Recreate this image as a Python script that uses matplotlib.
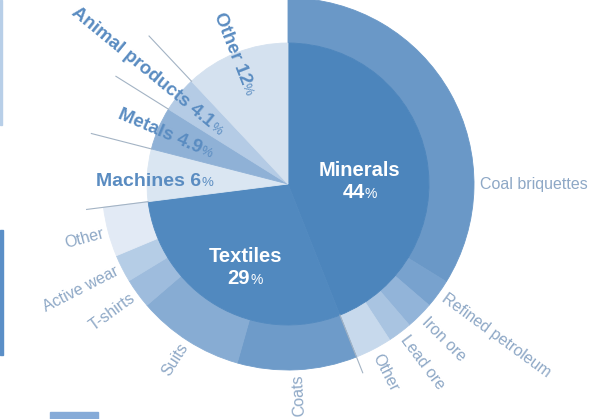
import numpy as np
import matplotlib.pyplot as plt
from matplotlib.patches import Rectangle

# top level split (clockwise from 12 o'clock)
categories = ["Minerals", "Textiles", "Machines", "Metals", "Animal products", "Other"]
shares = [44, 29, 6, 4.9, 4.1, 12]
share_text = ["44", "29", "6", "4.9", "4.1", "12"]
inner_colors = ["#4c85bc", "#5189bf", "#dae6f2", "#8fb1d6", "#b4cbe5", "#d4e1ef"]

# second ring, only for the two big categories
mineral_parts = ["Coal briquettes", "Refined petroleum", "Iron ore", "Lead ore", "Other"]
mineral_shares = [33.8, 2.5, 2.4, 2.1, 3.2]
mineral_colors = ["#6a98c7", "#78a2ce", "#92b4d9", "#a9c4e1", "#c7d9ec"]

textile_parts = ["Coats", "Suits", "T-shirts", "Active wear", "Other"]
textile_shares = [10.4, 9.3, 2.6, 2.4, 4.3]
textile_colors = ["#6e9bc9", "#87acd3", "#9ebcdd", "#b5cde6", "#e2eaf5"]

R1, R2 = 141, 186
label_col = "#8ea8c6"
bold_col = "#5a8cc1"
plt.rcParams['font.family'] = ['Liberation Sans', 'DejaVu Sans']

fig = plt.figure(figsize=(6.06, 4.19), dpi=100)
ax = fig.add_axes([0, 0, 1, 1])

rest = sum(shares) - sum(mineral_shares) - sum(textile_shares)
outer_vals = mineral_shares + textile_shares + [rest]
outer_cols = mineral_colors + textile_colors + ["none"]
w_out, _ = ax.pie(outer_vals, radius=R2, startangle=90, counterclock=False, colors=outer_cols,
                  wedgeprops=dict(width=R2 - R1, linewidth=0.6))
w_in, _ = ax.pie(shares, radius=R1, startangle=90, counterclock=False, colors=inner_colors,
                 wedgeprops=dict(linewidth=0.6))
for w in list(w_out) + list(w_in):
    w.set_edgecolor(w.get_facecolor())


def pt(r, t):
    a = np.radians(t)
    return r * np.sin(a), r * np.cos(a)


# leader lines on the category borders
cum = np.cumsum(shares) * 3.6
for t in cum[:-1]:
    x0, y0 = pt(R1, t)
    x1, y1 = pt(203, t)
    ax.plot([x0, x1], [y0, y1], color="#a3b3c4", lw=0.8, zorder=3)

# names inside the two big wedges
starts = np.concatenate([[0], cum[:-1]])
name_r = [73, 84]
for i in range(2):
    mid = (starts[i] + cum[i]) / 2
    x, y = pt(name_r[i], mid)
    ax.text(x, y, categories[i], color="white", fontsize=14.5, fontweight="bold",
            ha="center", va="center", zorder=4)
    ax.text(x + 5, y - 28, share_text[i], color="white", fontsize=14.5, fontweight="bold",
            ha="right", va="baseline", zorder=4)
    ax.text(x + 5, y - 28, "%", color="white", fontsize=10,
            ha="left", va="baseline", zorder=4)

# radial bold labels for the small categories
end_r = [75, 82, 85, 97]
for k, i in enumerate(range(2, 6)):
    mid = (starts[i] + cum[i]) / 2
    rot = 270 - mid
    if abs(rot) < 5:
        rot = 0
    d = np.array([np.cos(np.radians(rot)), np.sin(np.radians(rot))])
    down = np.array([np.sin(np.radians(rot)), -np.cos(np.radians(rot))])
    base = np.array(pt(end_r[k], mid)) + down * 6.5
    p2 = base - d * 12
    ax.text(p2[0], p2[1], f"{categories[i]} {share_text[i]}", color=bold_col,
            fontsize=14 if k == 0 else 13.5, fontweight="bold", rotation=rot,
            rotation_mode="anchor", ha="right", va="baseline", zorder=4)
    ax.text(base[0], base[1], "%", color=bold_col, fontsize=9.5, rotation=rot,
            rotation_mode="anchor", ha="right", va="baseline", zorder=4)

# outer ring labels
names = mineral_parts + textile_parts
vals = mineral_shares + textile_shares
ocum = np.cumsum(vals) * 3.6
ostart = np.concatenate([[0], ocum[:-1]])
for name, a, b in zip(names, ostart, ocum):
    mid = (a + b) / 2
    if name == "Coal briquettes":
        mid = 90
    if mid < 170:
        x, y = pt(R2 + 6, mid)
        ax.text(x, y, name, color=label_col, fontsize=11.5, rotation=90 - mid,
                rotation_mode="anchor", ha="left", va="center")
    else:
        x, y = pt(R2 + 5, mid)
        ax.text(x, y, name, color=label_col, fontsize=11.5, rotation=270 - mid,
                rotation_mode="anchor", ha="right", va="center")

ax.set_xlim(-288, 318)
ax.set_ylim(-235, 184)
ax.set_aspect("equal")
ax.axis("off")

# bits of neighbouring page at the crop edges
fig.add_artist(Rectangle((0, 294), 2, 125, transform=None, color="#b8cfe8"))
fig.add_artist(Rectangle((0, 64), 3, 125, transform=None, color="#5b8fc7"))
fig.add_artist(Rectangle((50, 0), 48, 7, transform=None, color="#86abd8"))

fig.savefig("out.png", dpi=100)
